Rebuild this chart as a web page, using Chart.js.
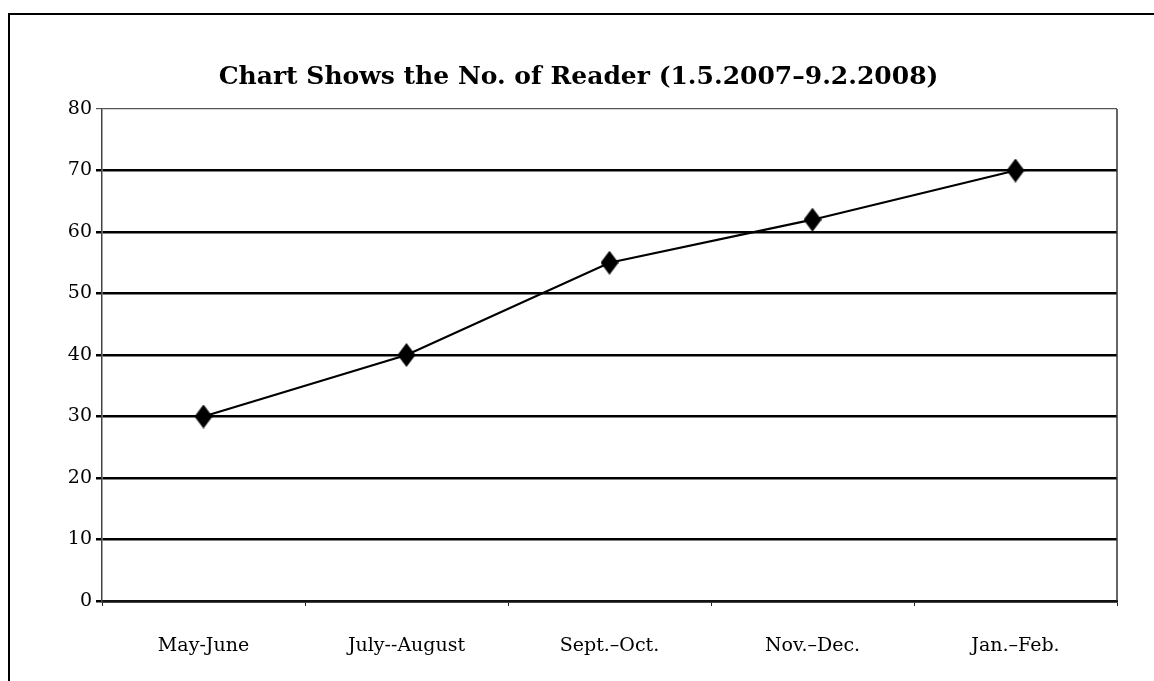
<!DOCTYPE html>
<html lang="en">
<head>
    <meta charset="UTF-8">
    <title>No. of Reader</title>
    <script src="https://cdn.jsdelivr.net/npm/chart.js"></script>
    <style>
        body { margin: 0; background: #fff; }
        #wrap { position: relative; width: 1154px; height: 681px; }
        #frame { position: absolute; left: 8px; top: 13px; right: -10px; bottom: -10px;
                 border-left: 2px solid #000; border-top: 2px solid #000; }
        #chart { position: absolute; left: 0; top: 0; }
    </style>
</head>

<body>
    <div id="wrap">
        <div id="frame"></div>
        <canvas id="chart" width="1154" height="681"></canvas>
    </div>

    <script>
        // Data
        const periods = ['May-June', 'July--August', 'Sept.–Oct.', 'Nov.–Dec.', 'Jan.–Feb.'];
        const readers = [30, 40, 55, 62, 70];
        const yTicks = [0, 10, 20, 30, 40, 50, 60, 70, 80];

        // Tall diamond marker
        const marker = document.createElement('canvas');
        marker.width = 18;
        marker.height = 24;
        const m = marker.getContext('2d');
        m.fillStyle = '#000';
        m.beginPath();
        m.moveTo(9, 0);
        m.lineTo(18, 12);
        m.lineTo(9, 24);
        m.lineTo(0, 12);
        m.closePath();
        m.fill();

        const font = 'DejaVu Serif';

        new Chart(document.getElementById('chart'), {
            type: 'line',
            data: {
                labels: periods,
                datasets: [{
                    label: 'No. of Reader',
                    data: readers,
                    borderColor: '#000',
                    borderWidth: 2.2,
                    pointStyle: marker,
                    tension: 0
                }]
            },
            options: {
                responsive: false,
                animation: false,
                layout: { padding: { left: 40, right: 37, top: 0, bottom: 0 } },
                plugins: {
                    legend: { display: false },
                    tooltip: { enabled: false },
                    title: {
                        display: true,
                        text: 'Chart Shows the No. of Reader (1.5.2007–9.2.2008)',
                        color: '#000',
                        font: { family: font, size: 25, weight: 'bold' },
                        padding: { top: 62, bottom: 17 }
                    }
                },
                scales: {
                    x: {
                        offset: true,
                        afterFit: s => { s.height = 80; },
                        border: { color: '#111', width: 2.5 },
                        grid: { offset: true, drawOnChartArea: false, tickLength: 5, color: '#222' },
                        ticks: { color: '#000', padding: 29, font: { family: font, size: 19 } }
                    },
                    y: {
                        min: 0,
                        max: 80,
                        afterFit: s => { s.width = 62; },
                        afterBuildTicks: s => { s.ticks = yTicks.map(v => ({ value: v })); },
                        border: { color: '#444', width: 1.5 },
                        grid: {
                            color: c => c.tick.value === 80 ? '#555' : '#000',
                            lineWidth: c => c.tick.value === 80 ? 1.2 : 2.5,
                            tickLength: 6
                        },
                        ticks: { color: '#000', padding: 4, font: { family: font, size: 19 } }
                    }
                }
            },
            plugins: [{
                // right edge of the plot frame
                id: 'rightEdge',
                afterDatasetsDraw(chart) {
                    const a = chart.chartArea, ctx = chart.ctx;
                    ctx.save();
                    ctx.strokeStyle = '#333';
                    ctx.lineWidth = 1.5;
                    ctx.beginPath();
                    ctx.moveTo(a.right, a.top);
                    ctx.lineTo(a.right, a.bottom);
                    ctx.stroke();
                    ctx.restore();
                }
            }]
        });
    </script>
</body>
</html>
